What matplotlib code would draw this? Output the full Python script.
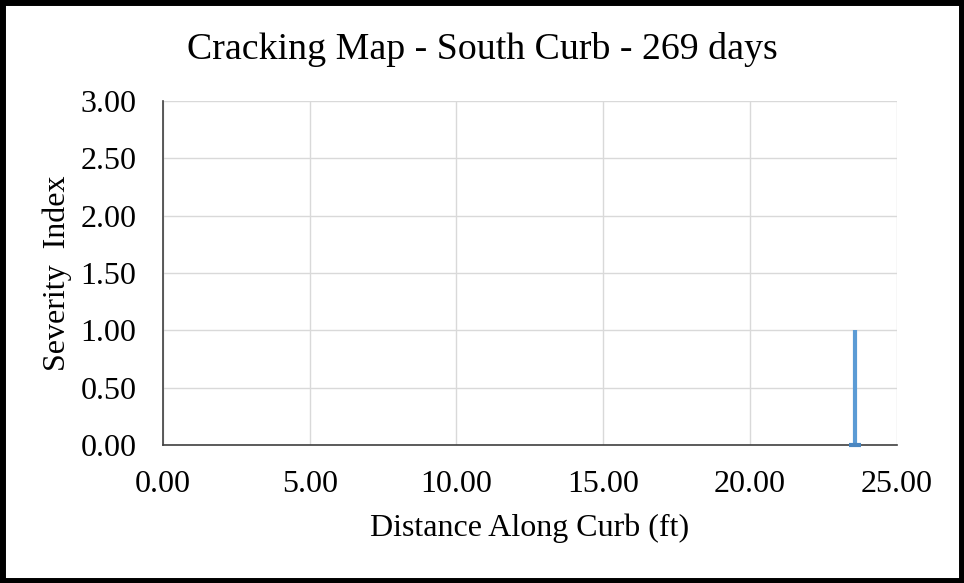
import matplotlib
matplotlib.use("Agg")
import matplotlib.pyplot as plt
from matplotlib.patches import Rectangle

title = "Cracking Map - South Curb - 269 days"
x_label = "Distance Along Curb (ft)"
y_label = "Severity  Index"
crack_x = [23.6, 23.6]
crack_y = [0.0, 1.0]
x_ticks = [0, 5, 10, 15, 20, 25]
y_ticks = [0, 0.5, 1.0, 1.5, 2.0, 2.5, 3.0]

plt.rcParams['font.family'] = ['Liberation Serif', 'DejaVu Serif']
fig = plt.figure(figsize=(9.64, 5.83), dpi=100)
ax = fig.add_axes([0.169, 0.237, 0.761, 0.59])
ax.plot(crack_x, crack_y, color='#5B9BD5', lw=3, solid_capstyle='butt', zorder=3)
ax.plot(crack_x[:1], crack_y[:1], marker='_', color='#4A86C0', ms=9, mew=3,
        zorder=4, clip_on=False)
ax.set_xlim(0, 25)
ax.set_ylim(0, 3)
ax.set_xticks(x_ticks)
ax.set_yticks(y_ticks)
ax.set_xticklabels([f"{v:.2f}" for v in x_ticks])
ax.set_yticklabels([f"{v:.2f}" for v in y_ticks])
ax.tick_params(labelsize=23, length=0)
ax.tick_params(axis='x', pad=18)
ax.tick_params(axis='y', pad=19)
ax.grid(True, color='#D9D9D9', lw=1)
ax.set_axisbelow(True)
for s in ['top', 'right']:
    ax.spines[s].set_visible(False)
for s in ['left', 'bottom']:
    ax.spines[s].set_color('#404040')
    ax.spines[s].set_linewidth(1.2)
ax.set_xlabel(x_label, fontsize=23)
ax.set_ylabel(y_label, fontsize=23)
ax.xaxis.set_label_coords(0.5, -0.20)
ax.yaxis.set_label_coords(-0.124, 0.5)
fig.text(0.5, 0.915, title, ha='center', va='center', fontsize=27.3)
fig.patches.append(Rectangle((0.0025, 0.004), 0.995, 0.992, transform=fig.transFigure,
                             fill=False, edgecolor='black', lw=5))
fig.savefig("out.png", dpi=100)
